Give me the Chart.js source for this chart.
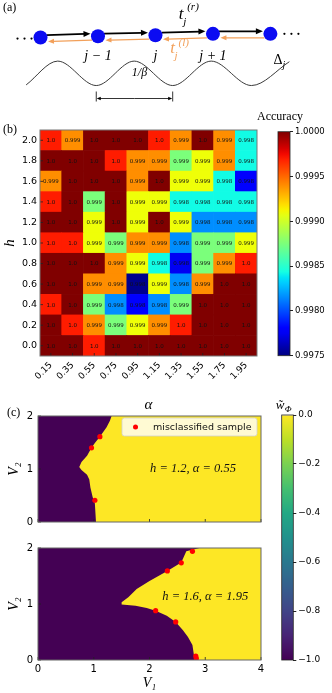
<!DOCTYPE html>
<html><head><meta charset="utf-8">
<script src="https://cdn.jsdelivr.net/npm/chart.js@4.4.1/dist/chart.umd.min.js"></script>
<style>
html,body{margin:0;padding:0;background:#fff;}
#wrap{position:relative;width:332px;height:693px;overflow:hidden;background:#fff;}
canvas{position:absolute;}
</style></head><body>
<div id="wrap">
<canvas id="cA" width="332" height="110" style="left:0;top:0"></canvas>
<canvas id="cB" width="270" height="305" style="left:0;top:110px"></canvas>
<canvas id="cBbar" width="82" height="260" style="left:250px;top:110px"></canvas>
<canvas id="cC1" width="270" height="128" style="left:0;top:405px"></canvas>
<canvas id="cC2" width="270" height="156" style="left:0;top:537px"></canvas>
<canvas id="cCbar" width="66" height="280" style="left:266px;top:395px"></canvas>
</div>
<script>
// ---------------- DATA ----------------
// (a) schematic
const sites = [-2, -1, 0, 1, 2];
const chainY = [2.93, 3.04, 3.12, 3.23, 3.23];
const siteLabels = ['', 'j − 1', 'j', 'j + 1', ''];
const waveX = [-2.25, -1.70, -1.03, -0.37, 0.30, 0.97, 1.67, 2.33];
const waveY = [-0.95, 1, -1, 1, -1, 1, -1, 0.95];

// (b) heatmap
const alphaLabels = ['0.15','0.35','0.55','0.75','0.95','1.15','1.35','1.55','1.75','1.95'];
const hValues = [0.0, 0.2, 0.4, 0.6, 0.8, 1.0, 1.2, 1.4, 1.6, 1.8, 2.0];
const acc_h00 = [1.0, 1.0, 0.9997, 1.0, 1.0, 1.0, 1.0, 1.0, 1.0, 1.0];
const acc_h02 = [1.0, 0.9997, 0.9994, 0.99875, 0.9991, 0.9994, 0.9997, 1.0, 1.0, 1.0];
const acc_h04 = [0.9997, 1.0, 0.99875, 0.99816, 0.99778, 0.99816, 0.99875, 1.0, 1.0, 1.0];
const acc_h06 = [1.0, 1.0, 0.9994, 0.9994, 0.99753, 0.9991, 0.99816, 0.9994, 1.0, 1.0];
const acc_h08 = [1.0, 1.0, 1.0, 0.9994, 0.9991, 0.99843, 0.99775, 0.99875, 0.9994, 0.9997];
const acc_h10 = [0.9997, 0.9997, 0.9991, 0.99875, 0.9994, 0.9994, 0.99816, 0.99875, 0.99875, 0.9991];
const acc_h12 = [1.0, 1.0, 0.9991, 1.0, 0.9991, 1.0, 0.9991, 0.99816, 0.99816, 0.99816];
const acc_h14 = [0.9997, 1.0, 0.99875, 1.0, 0.9991, 0.9991, 0.99843, 0.99843, 0.99843, 0.99843];
const acc_h16 = [0.9994, 1.0, 1.0, 1.0, 0.9994, 1.0, 0.9991, 0.9991, 0.99843, 0.9978];
const acc_h18 = [1.0, 1.0, 1.0, 0.9997, 0.9994, 0.9994, 0.99875, 0.9991, 0.9994, 0.99843];
const acc_h20 = [0.9997, 0.9994, 1.0, 1.0, 1.0, 0.9997, 0.9994, 1.0, 0.9994, 0.99843];
const accuracyRows = [acc_h00, acc_h02, acc_h04, acc_h06, acc_h08, acc_h10, acc_h12, acc_h14, acc_h16, acc_h18, acc_h20];
const accRange = [0.9975, 1.0];
const accTicks = [0.9975, 0.998, 0.9985, 0.999, 0.9995, 1.0];

// (c) phase maps
const V1Range = [0, 4];
const V2Range = [0, 2];
const V1Ticks = [0, 1, 2, 3, 4];
const V2Ticks = [0, 1, 2];
const boundA_V1 = [1.32, 1.29, 1.23, 1.11, 1.02, 0.96, 0.88, 0.78, 0.74, 0.78, 0.88, 0.92, 0.94, 0.98, 1.02, 1.04];
const boundA_V2 = [2.00, 1.91, 1.79, 1.61, 1.49, 1.40, 1.25, 1.13, 1.04, 0.98, 0.89, 0.80, 0.65, 0.47, 0.35, 0.00];
const missA_V1 = [1.11, 0.96, 1.02];
const missA_V2 = [1.61, 1.40, 0.41];
const boundB_V1 = [2.90, 2.66, 2.57, 2.32, 2.00, 1.77, 1.62, 1.50, 1.50, 1.75, 1.95, 2.11, 2.31, 2.47, 2.60, 2.69, 2.77, 2.81];
const boundB_V2 = [2.00, 1.94, 1.74, 1.59, 1.41, 1.27, 1.12, 1.03, 0.99, 0.97, 0.93, 0.88, 0.79, 0.68, 0.53, 0.41, 0.27, 0.00];
const missB_V1 = [2.77, 2.57, 2.32, 2.11, 2.47, 2.83, 2.84];
const missB_V2 = [1.94, 1.735, 1.59, 0.88, 0.68, 0.07, 0.03];
const mapH = [1.2, 1.6];
const mapAlpha = [0.55, 1.95];
const wRange = [-1.0, 0.0];
const wTicks = [-1.0, -0.8, -0.6, -0.4, -0.2, 0.0];

// ---------------- HELPERS ----------------
Chart.defaults.font.family = 'DejaVu Sans';
Chart.defaults.color = '#000';
const SERIF = '"Liberation Serif", "DejaVu Serif", serif';

function interp(pts, t){
  for (let i = 0; i < pts.length - 1; i++){
    const [x0,y0] = pts[i], [x1,y1] = pts[i+1];
    if (t <= x1) return y0 + (y1 - y0) * (t - x0) / (x1 - x0);
  }
  return pts[pts.length-1][1];
}
const JR = [[0,0],[0.35,0],[0.66,1],[0.89,1],[1,0.5]];
const JG = [[0,0],[0.125,0],[0.375,1],[0.64,1],[0.91,0],[1,0]];
const JB = [[0,0.5],[0.11,1],[0.34,1],[0.65,0],[1,0]];
function jet(t){
  t = Math.max(0, Math.min(1, t));
  return 'rgb(' + Math.round(255*interp(JR,t)) + ',' + Math.round(255*interp(JG,t)) + ',' + Math.round(255*interp(JB,t)) + ')';
}
const VIR = ['#440154','#482475','#414487','#355f8d','#2a788e','#21918c','#22a884','#44bf70','#7ad151','#bddf26','#fde725'];
function fmtAcc(v){ const r = Math.round(v*1000)/1000; return r >= 1 ? '1.0' : r.toFixed(3); }
function minusFmt(v){ const s = Math.abs(v).toFixed(1); return (v < -1e-9 ? '−' : '') + s; }

function arrow(ctx, xa, ya, xb, yb, color, lw, hl, hw){
  const ang = Math.atan2(yb - ya, xb - xa), c = Math.cos(ang), s = Math.sin(ang);
  ctx.strokeStyle = color; ctx.fillStyle = color; ctx.lineWidth = lw;
  ctx.beginPath(); ctx.moveTo(xa, ya); ctx.lineTo(xb - hl*c*0.8, yb - hl*s*0.8); ctx.stroke();
  ctx.beginPath(); ctx.moveTo(xb, yb);
  ctx.lineTo(xb - hl*c + hw*s, yb - hl*s - hw*c);
  ctx.lineTo(xb - hl*c - hw*s, yb - hl*s + hw*c);
  ctx.closePath(); ctx.fill();
}

const panelLabel = {
  id: 'panelLabel',
  afterDraw(chart, args, o){
    if (!o || !o.text) return;
    const ctx = chart.ctx; ctx.save();
    ctx.font = '12px ' + SERIF; ctx.fillStyle = '#000'; ctx.textBaseline = 'middle'; ctx.textAlign = 'left';
    ctx.fillText(o.text, o.x, o.y); ctx.restore();
  }
};

const baseOpts = { animation: false, responsive: false, devicePixelRatio: 1, events: [] };

// ---------------- (a) SCHEMATIC ----------------
const schematic = {
  id: 'schematic',
  beforeDatasetsDraw(chart){
    const {ctx, scales:{x, y}} = chart; ctx.save();
    for (let i = 0; i < sites.length - 1; i++){
      const x0 = x.getPixelForValue(sites[i]), y0 = y.getPixelForValue(chainY[i]);
      const x1 = x.getPixelForValue(sites[i+1]), y1 = y.getPixelForValue(chainY[i+1]);
      arrow(ctx, x0 + 6, y0 - 2.5, x1 - 7.5, y1 - 2.5, '#000', 1.8, 7, 3);
      arrow(ctx, x1 - 6, y1 + 4, x0 + 7.5, y0 + 4, '#f2a05a', 1.2, 6, 2.5);
    }
    ctx.restore();
  },
  afterDatasetsDraw(chart){
    const {ctx, scales:{x, y}} = chart; ctx.save();
    ctx.fillStyle = '#000';
    const xl = x.getPixelForValue(sites[0]), yl = y.getPixelForValue(chainY[0]);
    const xr = x.getPixelForValue(sites[sites.length-1]), yr = y.getPixelForValue(chainY[chainY.length-1]);
    [-23, -16, -9].forEach(d => { ctx.beginPath(); ctx.arc(xl + d, yl + 1, 1.1, 0, Math.PI*2); ctx.fill(); });
    [14, 21, 28].forEach(d => { ctx.beginPath(); ctx.arc(xr + d, yr, 1.1, 0, Math.PI*2); ctx.fill(); });
    ctx.font = 'italic 14px ' + SERIF; ctx.textAlign = 'center'; ctx.textBaseline = 'middle';
    sites.forEach((s, i) => { if (siteLabels[i]) ctx.fillText(siteLabels[i], x.getPixelForValue(s), y.getPixelForValue(chainY[1]) + 20); });
    const xd = x.getPixelForValue(sites[sites.length-1]);
    ctx.font = '14px ' + SERIF; ctx.textAlign = 'left';
    ctx.fillText('Δ', xd + 3, 60);
    ctx.font = 'italic 10px ' + SERIF; ctx.fillText('j', xd + 12, 65);
    const xt = x.getPixelForValue(0.5);
    ctx.font = 'italic 17px ' + SERIF; ctx.textAlign = 'center'; ctx.fillText('t', xt - 3, 15);
    ctx.font = 'italic 11px ' + SERIF; ctx.textAlign = 'left';
    ctx.fillText('(r)', xt + 3, 7); ctx.fillText('j', xt - 1, 22);
    const xo = x.getPixelForValue(0.35);
    ctx.fillStyle = '#f2a05a';
    ctx.font = 'italic 17px ' + SERIF; ctx.textAlign = 'center'; ctx.fillText('t', xo - 3, 49);
    ctx.font = 'italic 11px ' + SERIF; ctx.textAlign = 'left';
    ctx.fillText('(l)', xo + 3, 43); ctx.fillText('j', xo - 1, 56);
    ctx.fillStyle = '#000'; ctx.strokeStyle = '#000';
    const ta = x.getPixelForValue(waveX[2]), tb = x.getPixelForValue(waveX[4]);
    const yb = 98.5;
    ctx.lineWidth = 0.8;
    ctx.beginPath(); ctx.moveTo(ta, yb - 7); ctx.lineTo(ta, yb + 3); ctx.moveTo(tb, yb - 7); ctx.lineTo(tb, yb + 3); ctx.stroke();
    arrow(ctx, (ta+tb)/2, yb, ta + 0.5, yb, '#000', 0.8, 4, 1.8);
    arrow(ctx, (ta+tb)/2, yb, tb - 0.5, yb, '#000', 0.8, 4, 1.8);
    ctx.font = 'italic 12px ' + SERIF; ctx.textAlign = 'center'; ctx.fillStyle = '#000';
    ctx.fillText('1/β', (ta+tb)/2 + 5, 73);
    ctx.restore();
  }
};

new Chart(document.getElementById('cA'), {
  type: 'scatter',
  data: { datasets: [
    { type: 'line', data: waveX.map((v, i) => ({x: v, y: waveY[i]})), borderColor: '#3a3a3a', borderWidth: 1,
      pointRadius: 0, cubicInterpolationMode: 'monotone', fill: false },
    { data: sites.map((s, i) => ({x: s, y: chainY[i]})), pointRadius: 7, pointBackgroundColor: '#0b0bf2',
      pointBorderWidth: 0, borderWidth: 0 }
  ]},
  options: Object.assign({}, baseOpts, {
    layout: { padding: 0 },
    scales: { x: { display: false, min: -2.583, max: 2.95 }, y: { display: false, min: -2.43, max: 5.43 } },
    plugins: { legend: { display: false }, tooltip: { enabled: false }, panelLabel: { text: '(a)', x: 3, y: 8 } }
  }),
  plugins: [schematic, panelLabel]
});

// ---------------- (b) HEATMAP ----------------
const hStep = hValues[1] - hValues[0];
const heatDatasets = accuracyRows.map((row, r) => ({
  label: 'h = ' + hValues[r].toFixed(1),
  data: row.map(() => [hValues[r] - hStep/2, hValues[r] + hStep/2]),
  backgroundColor: row.map(v => jet((v - accRange[0]) / (accRange[1] - accRange[0]))),
  grouped: false, barPercentage: 1, categoryPercentage: 1, borderWidth: 0, borderSkipped: false
}));

const heatDeco = {
  id: 'heatDeco',
  afterDatasetsDraw(chart){
    const {ctx, chartArea: a, scales: {x, y}} = chart; ctx.save();
    ctx.font = '5.5px "DejaVu Sans"'; ctx.fillStyle = '#111'; ctx.textAlign = 'center'; ctx.textBaseline = 'middle';
    accuracyRows.forEach((row, r) => row.forEach((v, c) => {
      ctx.fillText(fmtAcc(v), x.getPixelForValue(c), y.getPixelForValue(hValues[r]) + 0.5);
    }));
    ctx.strokeStyle = '#222'; ctx.lineWidth = 0.8;
    ctx.beginPath();
    alphaLabels.forEach((l, c) => { const px = x.getPixelForValue(c); ctx.moveTo(px, a.bottom); ctx.lineTo(px, a.bottom - 3); });
    hValues.forEach(h => { const py = y.getPixelForValue(h); ctx.moveTo(a.left, py); ctx.lineTo(a.left + 3, py); });
    ctx.stroke();
    ctx.strokeStyle = '#777'; ctx.lineWidth = 1;
    ctx.strokeRect(a.left, a.top, a.right - a.left, a.bottom - a.top);
    ctx.restore();
  }
};

new Chart(document.getElementById('cB'), {
  type: 'bar',
  data: { labels: alphaLabels, datasets: heatDatasets },
  options: Object.assign({}, baseOpts, {
    layout: { padding: { top: 20, right: 13, left: 0, bottom: 0 } },
    scales: {
      x: { type: 'category', grid: { display: false, drawTicks: false }, border: { display: false },
           ticks: { font: { size: 9 }, minRotation: 45, maxRotation: 45, padding: 4, color: '#000' },
           title: { display: true, text: 'α', font: { family: SERIF, size: 15, style: 'italic' }, padding: { top: 0, bottom: 1 }, color: '#000' },
           afterFit: s => { s.height = 59; } },
      y: { type: 'linear', min: hValues[0] - hStep/2, max: hValues[hValues.length-1] + hStep/2,
           grid: { display: false, drawTicks: false }, border: { display: false },
           afterBuildTicks: s => { s.ticks = hValues.map(v => ({ value: v })); },
           ticks: { font: { size: 9.5 }, padding: 3, color: '#000', callback: v => Number(v).toFixed(1) },
           title: { display: true, text: 'h', font: { family: SERIF, size: 15, style: 'italic' }, padding: { top: 1, bottom: 0 }, color: '#000' },
           afterFit: s => { s.width = 40; } }
    },
    plugins: { legend: { display: false }, tooltip: { enabled: false }, panelLabel: { text: '(b)', x: 3, y: 20 } }
  }),
  plugins: [heatDeco, panelLabel]
});

// ---------------- COLORBARS ----------------
function makeColorbar(id, range, ticks, colorAt, fmt, pad, axisW, tickFont, titleDraw){
  const cbDeco = {
    id: 'cbDeco',
    afterDatasetsDraw(chart){
      const {ctx, chartArea: a} = chart; ctx.save();
      ctx.strokeStyle = '#222'; ctx.lineWidth = 0.8;
      ctx.strokeRect(a.left, a.top, a.right - a.left, a.bottom - a.top);
      titleDraw(ctx, a);
      ctx.restore();
    }
  };
  new Chart(document.getElementById(id), {
    type: 'bar',
    data: { labels: ['cb'], datasets: [{ data: [[range[0], range[1]]], barPercentage: 1, categoryPercentage: 1,
      borderWidth: 0, borderSkipped: false, inflateAmount: 0,
      backgroundColor: (c) => {
        const ch = c.chart, a = ch.chartArea; if (!a) return '#888';
        const g = ch.ctx.createLinearGradient(0, a.bottom, 0, a.top);
        for (let i = 0; i <= 40; i++) g.addColorStop(i/40, colorAt(i/40));
        return g;
      } }] },
    options: Object.assign({}, baseOpts, {
      layout: { padding: pad },
      scales: {
        x: { display: false },
        y: { position: 'right', min: range[0], max: range[1],
             grid: { drawOnChartArea: false, drawTicks: true, tickLength: 3, color: '#222' }, border: { display: false },
             afterBuildTicks: s => { s.ticks = ticks.map(v => ({ value: v })); },
             ticks: { font: { size: tickFont }, padding: 2, color: '#000', callback: v => fmt(v) },
             afterFit: s => { s.width = axisW; } }
      },
      plugins: { legend: { display: false }, tooltip: { enabled: false } }
    }),
    plugins: [cbDeco]
  });
}

makeColorbar('cBbar', accRange, accTicks, jet, v => Number(v).toFixed(4),
  { left: 28, top: 21.7, bottom: 14.3, right: 0 }, 42, 8.5,
  (ctx, a) => { ctx.font = '12px ' + SERIF; ctx.fillStyle = '#000'; ctx.textAlign = 'center'; ctx.textBaseline = 'middle';
                ctx.fillText('Accuracy', a.left + 2, 7); });

function viridis(t){
  const f = t * (VIR.length - 1), i = Math.min(Math.floor(f), VIR.length - 2), u = f - i;
  const p = h => [parseInt(h.slice(1,3),16), parseInt(h.slice(3,5),16), parseInt(h.slice(5,7),16)];
  const c0 = p(VIR[i]), c1 = p(VIR[i+1]);
  return 'rgb(' + c0.map((v, k) => Math.round(v + (c1[k] - v) * u)).join(',') + ')';
}

makeColorbar('cCbar', wRange, wTicks, viridis, minusFmt,
  { left: 15.7, top: 20, bottom: 15, right: 0 }, 38.7, 9,
  (ctx, a) => { ctx.fillStyle = '#000'; ctx.textBaseline = 'alphabetic'; ctx.textAlign = 'left';
                ctx.font = 'italic 13px ' + SERIF; ctx.fillText('w\u0303', a.left - 6, 14);
                ctx.font = 'italic 9px ' + SERIF; ctx.fillText('Φ', a.left + 3, 17); });

// ---------------- (c) MAPS ----------------
function makeMap(id, bV1, bV2, mV1, mV2, h, al, textPos, showXLabels, xAxisH, padTop, legendOn, label){
  const poly = bV1.map((v, i) => ({ x: v, y: bV2[i] }))
    .concat([{ x: V1Range[1], y: V2Range[0] }, { x: V1Range[1], y: V2Range[1] }]);
  const mapDeco = {
    id: 'mapDeco',
    beforeDatasetsDraw(chart){
      const {ctx, chartArea: a} = chart; ctx.save();
      ctx.fillStyle = VIR[0]; ctx.fillRect(a.left, a.top, a.right - a.left, a.bottom - a.top); ctx.restore();
    },
    afterDatasetsDraw(chart){
      const {ctx, chartArea: a, scales: {x, y}} = chart; ctx.save();
      ctx.fillStyle = '#111'; ctx.font = 'italic 12.5px ' + SERIF; ctx.textAlign = 'center'; ctx.textBaseline = 'middle';
      ctx.fillText('h = ' + h + ', α = ' + al, x.getPixelForValue(textPos[0]), y.getPixelForValue(textPos[1]));
      if (legendOn){
        const ds = chart.data.datasets[1];
        const w = 135, hh = 18, x0 = a.right - 4 - w, y0 = a.top + 2;
        ctx.beginPath(); ctx.roundRect(x0, y0, w, hh, 2.5);
        ctx.fillStyle = 'rgba(255,255,255,0.8)'; ctx.fill();
        ctx.strokeStyle = '#d0d0d0'; ctx.lineWidth = 0.8; ctx.stroke();
        ctx.fillStyle = '#ff0000'; ctx.beginPath(); ctx.arc(x0 + 13.5, y0 + hh/2, 2.5, 0, Math.PI*2); ctx.fill();
        ctx.fillStyle = '#111'; ctx.font = '9.5px "DejaVu Sans"'; ctx.textAlign = 'left';
        ctx.fillText(ds.label, x0 + 31, y0 + hh/2 + 0.5);
      }
      ctx.strokeStyle = '#222'; ctx.lineWidth = 0.8; ctx.beginPath();
      V1Ticks.forEach(v => { const px = x.getPixelForValue(v); ctx.moveTo(px, a.bottom); ctx.lineTo(px, a.bottom - 3); });
      V2Ticks.forEach(v => { const py = y.getPixelForValue(v); ctx.moveTo(a.left, py); ctx.lineTo(a.left + 3, py); });
      ctx.stroke();
      ctx.strokeStyle = '#666'; ctx.lineWidth = 1;
      ctx.strokeRect(a.left, a.top, a.right - a.left, a.bottom - a.top);
      ctx.restore();
    }
  };
  new Chart(document.getElementById(id), {
    type: 'scatter',
    data: { datasets: [
      { type: 'line', label: 'w = 0 region', data: poly, fill: 'shape', backgroundColor: VIR[VIR.length-1],
        borderWidth: 0, borderColor: 'rgba(0,0,0,0)', pointRadius: 0, tension: 0, order: 2 },
      { label: 'misclassified sample', data: mV1.map((v, i) => ({ x: v, y: mV2[i] })), pointRadius: 2.6,
        pointBackgroundColor: '#ff0000', pointBorderWidth: 0, borderWidth: 0, order: 1 }
    ]},
    options: Object.assign({}, baseOpts, {
      layout: { padding: { top: padTop, right: 9, left: 0, bottom: 0 } },
      scales: {
        x: { type: 'linear', min: V1Range[0], max: V1Range[1], grid: { display: false, drawTicks: false }, border: { display: false },
             afterBuildTicks: s => { s.ticks = V1Ticks.map(v => ({ value: v })); },
             ticks: { display: showXLabels, font: { size: 10 }, padding: 3, color: '#000' },
             title: { display: showXLabels, text: 'V₁', font: { family: SERIF, size: 14, style: 'italic' }, padding: { top: 0, bottom: 1.6 }, color: '#000' },
             afterFit: s => { s.height = xAxisH; } },
        y: { type: 'linear', min: V2Range[0], max: V2Range[1], grid: { display: false, drawTicks: false }, border: { display: false },
             afterBuildTicks: s => { s.ticks = V2Ticks.map(v => ({ value: v })); },
             ticks: { font: { size: 10 }, padding: 5, color: '#000' },
             title: { display: true, text: 'V₂', font: { family: SERIF, size: 14, style: 'italic' }, padding: { top: 5.6, bottom: 0 }, color: '#000' },
             afterFit: s => { s.width = 38; } }
      },
      plugins: { legend: { display: false }, tooltip: { enabled: false }, panelLabel: label }
    }),
    plugins: [mapDeco, panelLabel]
  });
}

makeMap('cC1', boundA_V1, boundA_V2, missA_V1, missA_V2, mapH[0], mapAlpha[0], [2.78, 1.0], false, 7, 10, true, { text: '(c)', x: 7, y: 8 });
makeMap('cC2', boundB_V1, boundB_V2, missB_V1, missB_V2, mapH[1], mapAlpha[1], [3.0, 1.13], true, 33, 9.7, false, null);
</script>
</body></html>
